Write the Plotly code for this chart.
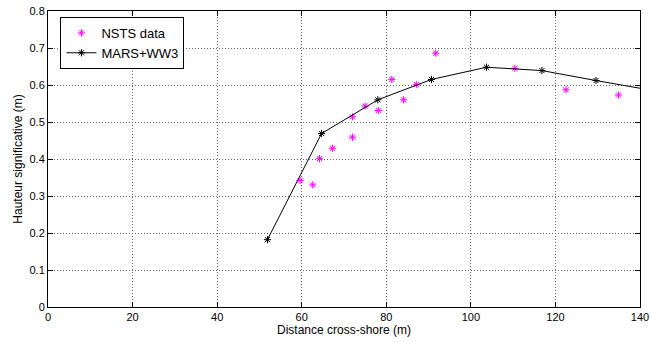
import plotly.graph_objects as go

# NSTS measured data
nsts_x = [59.6, 62.6, 64.2, 67.3, 72.0, 72.0, 75.0, 78.1, 81.3, 84.1, 87.2, 91.7, 110.4, 122.5, 134.9]
nsts_y = [0.342, 0.330, 0.401, 0.429, 0.459, 0.514, 0.543, 0.531, 0.615, 0.560, 0.601, 0.686, 0.645, 0.587, 0.573]

# MARS+WW3 model
model_x = [51.9, 64.7, 78.0, 90.7, 103.7, 116.8, 129.6, 142.6]
model_y = [0.182, 0.469, 0.560, 0.615, 0.648, 0.639, 0.612, 0.586]

x_ticks = [0, 20, 40, 60, 80, 100, 120, 140]
y_ticks = [0, 0.1, 0.2, 0.3, 0.4, 0.5, 0.6, 0.7, 0.8]
y_tick_labels = ["0", "0.1", "0.2", "0.3", "0.4", "0.5", "0.6", "0.7", "0.8"]

fig = go.Figure()
fig.add_trace(go.Scatter(
    x=nsts_x, y=nsts_y, mode="markers", name="NSTS data",
    marker=dict(symbol="asterisk-open", size=6, line=dict(color="#ff00ff", width=1), color="#ff00ff"),
))
fig.add_trace(go.Scatter(
    x=model_x, y=model_y, mode="lines+markers", name="MARS+WW3",
    line=dict(color="black", width=1),
    marker=dict(symbol="asterisk-open", size=6, line=dict(color="black", width=1), color="black"),
))

axis_common = dict(
    showline=True, linecolor="black", linewidth=1, mirror="ticks",
    ticks="inside", ticklen=5, tickcolor="black",
    showgrid=True, gridcolor="#666666", griddash="1px,2px", gridwidth=1,
    zeroline=False, automargin=False,
    tickfont=dict(family="Liberation Sans, Arial", size=11, color="black"),
)

fig.update_layout(
    width=651, height=342,
    margin=dict(l=48, r=11, t=11, b=35),
    paper_bgcolor="white", plot_bgcolor="white",
    font=dict(family="Liberation Sans, Arial", size=11, color="black"),
    showlegend=True,
    legend=dict(
        x=0.021, y=0.98, xanchor="left", yanchor="top",
        bordercolor="black", borderwidth=1, bgcolor="white",
        font=dict(size=13), tracegroupgap=0, itemwidth=30,
    ),
    xaxis=dict(range=[0, 140], tickvals=x_ticks,
               title=dict(text="Distance cross-shore (m)", standoff=2, font=dict(size=12)),
               **axis_common),
    yaxis=dict(range=[0, 0.8], tickvals=y_ticks, ticktext=y_tick_labels,
               title=dict(text="Hauteur significative (m)", standoff=4, font=dict(size=12)),
               **axis_common),
)

fig.write_html("out.html", config={"displayModeBar": False},
               post_script="document.body.style.margin='0px';document.body.style.overflow='hidden';")
